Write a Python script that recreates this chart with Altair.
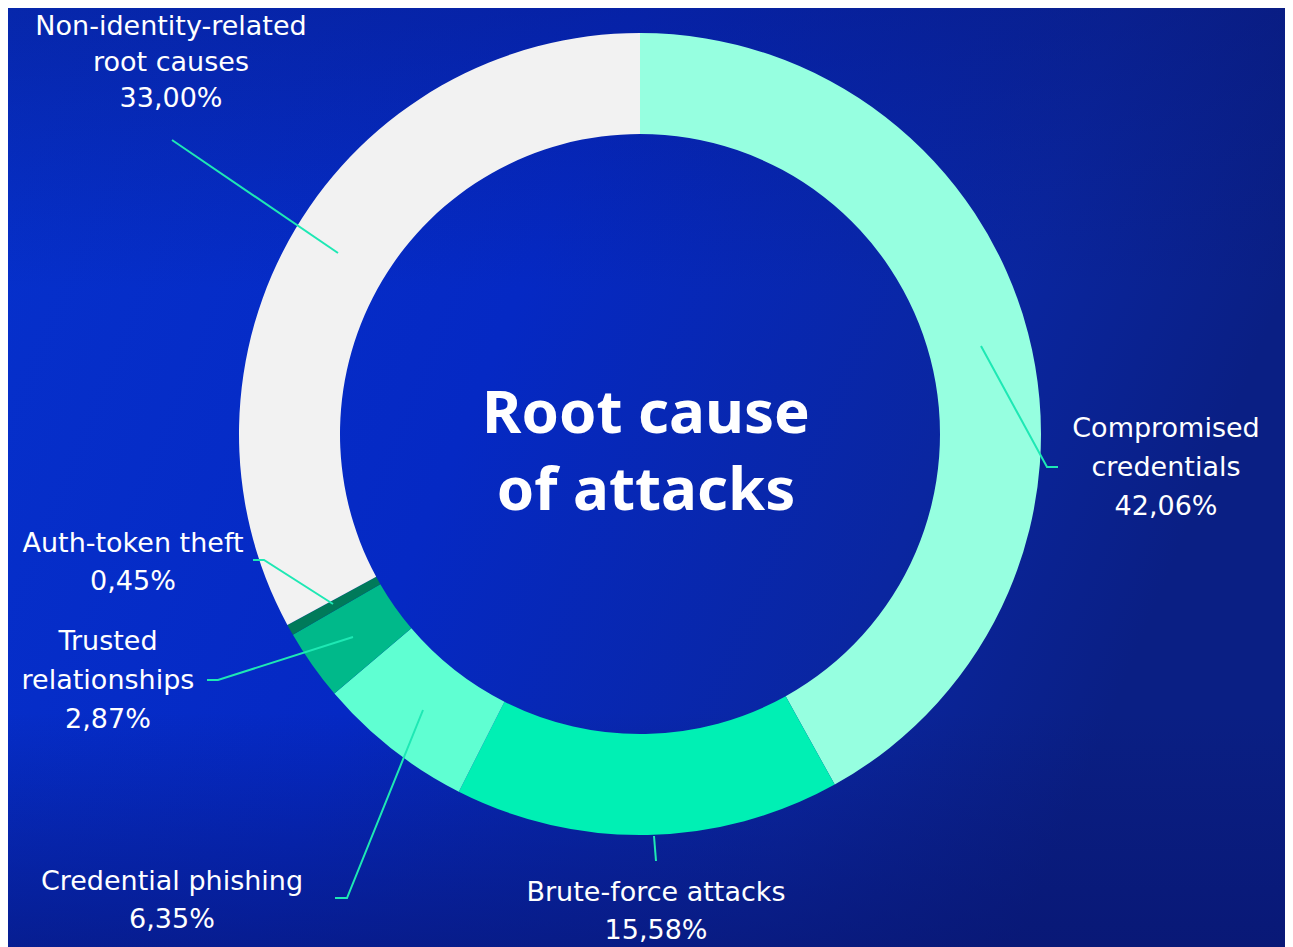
import altair as alt
import pandas as pd

# ---- data ----
categories = ["Compromised credentials", "Brute-force attacks", "Credential phishing",
              "Trusted relationships", "Auth-token theft", "Non-identity-related root causes"]
values = [42.06, 15.58, 6.35, 2.87, 0.45, 33.00]
value_labels = ["42,06%", "15,58%", "6,35%", "2,87%", "0,45%", "33,00%"]
label_lines = [["Compromised", "credentials"], ["Brute-force attacks"], ["Credential phishing"],
               ["Trusted", "relationships"], ["Auth-token theft"], ["Non-identity-related", "root causes"]]
slice_colors = ["#96FFE0", "#00F0B4", "#5FFFD2", "#00B98A", "#007A5A", "#F2F2F2"]
title_lines = ["Root cause", "of attacks"]

# ---- layout (page pixel coords) ----
W, H = 1277, 939
M = 8
center = (640, 434)
# (center x, first-line baseline y, line step)
label_anchors = [(1166, 437, 39), (656, 901, 38), (172, 890, 38), (108, 650, 39),
                 (133, 552, 38), (171, 35, 36)]
leaders = [
    [(981, 346), (1047, 467), (1058, 467)],
    [(654, 836), (656, 861)],
    [(423, 710), (347, 898), (335, 898)],
    [(353, 637), (218, 680), (207, 680)],
    [(333, 604), (264, 560), (253, 560)],
    [(338, 253), (172, 140)],
]

df = pd.DataFrame({"cat": categories, "value": values, "idx": range(len(categories))})

rows = []
for i, (cx, cy, st) in enumerate(label_anchors):
    lines = label_lines[i] + [value_labels[i]]
    for j, t in enumerate(lines):
        rows.append({"t": t, "px": cx - M, "py": cy + j * st - M})
lab = pd.DataFrame(rows)

lrows = []
for i, pts in enumerate(leaders):
    for k, (x, y) in enumerate(pts):
        lrows.append({"g": i, "k": k, "px": x - M, "py": y - M})
ldf = pd.DataFrame(lrows)

tdf = pd.DataFrame({"t": title_lines, "px": [646 - M, 646 - M], "py": [433 - M, 510 - M]})

bg = alt.Chart(pd.DataFrame({"a": [0]})).mark_rect(
    color=alt.Gradient(gradient="linear", x1=0, x2=1, y1=0, y2=0.3,
                       stops=[alt.GradientStop(offset=0, color="#0631CC"),
                              alt.GradientStop(offset=0.45, color="#0529C4"),
                              alt.GradientStop(offset=0.8, color="#0A26A0"),
                              alt.GradientStop(offset=1, color="#0A1F84")])
).encode(x=alt.value(0), x2=alt.value(W), y=alt.value(0), y2=alt.value(H))

bg2 = alt.Chart(pd.DataFrame({"a": [0]})).mark_rect(
    color=alt.Gradient(gradient="linear", x1=0, x2=0, y1=0, y2=1,
                       stops=[alt.GradientStop(offset=0, color="rgba(8,20,110,0.35)"),
                              alt.GradientStop(offset=0.3, color="rgba(8,20,110,0)"),
                              alt.GradientStop(offset=0.75, color="rgba(8,20,110,0)"),
                              alt.GradientStop(offset=1, color="rgba(8,20,110,0.6)")])
).encode(x=alt.value(0), x2=alt.value(W), y=alt.value(0), y2=alt.value(H))

donut = alt.Chart(df).mark_arc(radius=401, radius2=300).encode(
    theta=alt.Theta("value:Q", stack=True),
    color=alt.Color("cat:N", scale=alt.Scale(domain=categories, range=slice_colors), legend=None),
    order=alt.Order("idx:Q"),
    x=alt.value(center[0] - M),
    y=alt.value(center[1] - M),
)

leader = alt.Chart(ldf).mark_line(color="#1EE8B4", strokeWidth=2).encode(
    x=alt.X("px:Q", scale=None),
    y=alt.Y("py:Q", scale=None),
    detail="g:N",
    order="k:Q",
)

labels = alt.Chart(lab).mark_text(font="DejaVu Sans", fontSize=27, color="white",
                                  align="center", baseline="alphabetic").encode(
    x=alt.X("px:Q", scale=None), y=alt.Y("py:Q", scale=None), text="t:N")

title = alt.Chart(tdf).mark_text(font="Noto Sans", fontSize=60, fontWeight="bold", color="white",
                                 align="center", baseline="alphabetic").encode(
    x=alt.X("px:Q", scale=None), y=alt.Y("py:Q", scale=None), text="t:N")

chart = alt.layer(bg, bg2, donut, leader, labels, title).properties(
    width=W, height=H, padding=0, autosize=alt.AutoSizeParams(type="none"),
    background="#0529C4",
).configure_view(stroke=None)

chart.save("out.html", embed_options={"renderer": "svg", "actions": False})
